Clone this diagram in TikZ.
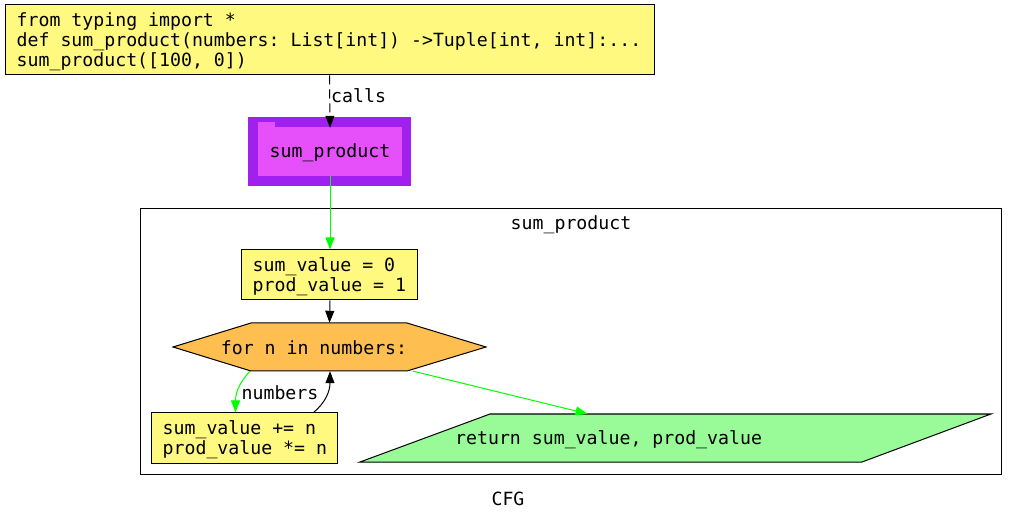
\documentclass[tikz,border=0pt]{standalone}
\usepackage{fontspec}
\newfontfamily\code{DejaVu Sans Mono}[WordSpace={1,0,0},PunctuationSpace=1]
\usetikzlibrary{arrows.meta,calc}
\definecolor{codeyellow}{HTML}{FFF980}
\definecolor{hexorange}{HTML}{FFBE50}
\definecolor{purpleout}{HTML}{A020F0}
\definecolor{purplein}{HTML}{E550FA}
\definecolor{retgreen}{HTML}{98FB98}
\definecolor{edgegreen}{HTML}{00FF00}
\tikzset{
  x=1pt, y=-1pt,
  every node/.style={font=\code\fontsize{18.2}{20}\selectfont\frenchspacing},
  stmt/.style={draw=black, line width=1pt, fill=codeyellow, rectangle, inner sep=0pt},
  code/.style={inner sep=0pt, align=left, anchor=west},
  arr/.style={line width=1pt, -{Triangle[length=12pt,width=9pt]}},
  greenarr/.style={arr, draw=edgegreen},
  blackarr/.style={arr, draw=black},
  plain/.style={inner sep=0pt},
}
\begin{document}
\begin{tikzpicture}
\useasboundingbox (0,0) rectangle (1018,521);
% cluster
\draw[line width=1pt] (140,209) rectangle (1001,474);
\node[plain] (cl) at (571,224.5) {sum\_product};
% top box
\node[stmt, minimum width=649pt, minimum height=70pt] (top) at (329.5,40) {};
\node[code] (topt) at (16.5,42) {from typing import *\\def sum\_product(numbers: List[int]) ->Tuple[int, int]:...\\sum\_product([100, 0])};
% purple function node
\fill[purpleout] (248,117) rectangle (411,186);
\fill[purplein] (258,122) rectangle (275,128);
\node[fill=purplein, minimum width=144pt, minimum height=49pt, inner sep=0pt] (fn) at (330,151.5) {};
\node[plain] (fnt) at (330,152.5) {sum\_product};
% box 1
\node[stmt, minimum width=176pt, minimum height=50pt] (b1) at (329,275) {};
\node[code] (b1t) at (252.5,277) {sum\_value = 0\\prod\_value = 1};
% hexagon
\draw[line width=1pt, fill=hexorange] (251,323) -- (407,323) -- (486,347) -- (407,371) -- (251,371) -- (173,347) -- cycle;
\node[minimum width=313pt, minimum height=48pt, inner sep=0pt] (hex) at (329.5,347) {};
\node[plain] (hext) at (314,348) {for n in numbers:};
% box 2
\node[stmt, minimum width=186pt, minimum height=50pt] (b2) at (244,438) {};
\node[code] (b2t) at (162.5,440) {sum\_value += n\\prod\_value *= n};
% return parallelogram
\draw[line width=1pt, fill=retgreen] (490,414) -- (991,414) -- (862,462) -- (360,462) -- cycle;
\node[minimum width=631pt, minimum height=48pt, inner sep=0pt] (ret) at (675.5,438) {};
\node[plain, anchor=west] (rett) at (455,439.5) {return sum\_value, prod\_value};
% edges
\draw[blackarr, dash pattern=on 9pt off 5pt] (top.south) -- ($(fn.north)+(0,1)$);
\node[plain, anchor=west] (lcalls) at (331,96) {calls};
\draw[greenarr] (fn.south) -- ($(b1.north)+(1,0)$);
\draw[blackarr] ($(b1.south)+(1,0)$) -- (hex.north);
\draw[greenarr] ($(hex.south west)+(77,0)$) .. controls ($(hex.south west)+(70,8)$) and ($(b2.north west)+(85,-23)$) .. ($(b2.north west)+(85,0)$);
\node[plain] (lnum) at (280,393) {numbers};
\draw[blackarr] ($(b2.north east)+(-24,0)$) .. controls ($(b2.north east)+(-12,-10)$) and ($(hex.south)+(0.5,20)$) .. ($(hex.south)+(0.5,0)$);
\draw[greenarr] ($(hex.south east)+(-73,0)$) -- ($(ret.north)+(-88,0)$);
% caption
\node[plain] (cap) at (508,499) {CFG};
\end{tikzpicture}
\end{document}
